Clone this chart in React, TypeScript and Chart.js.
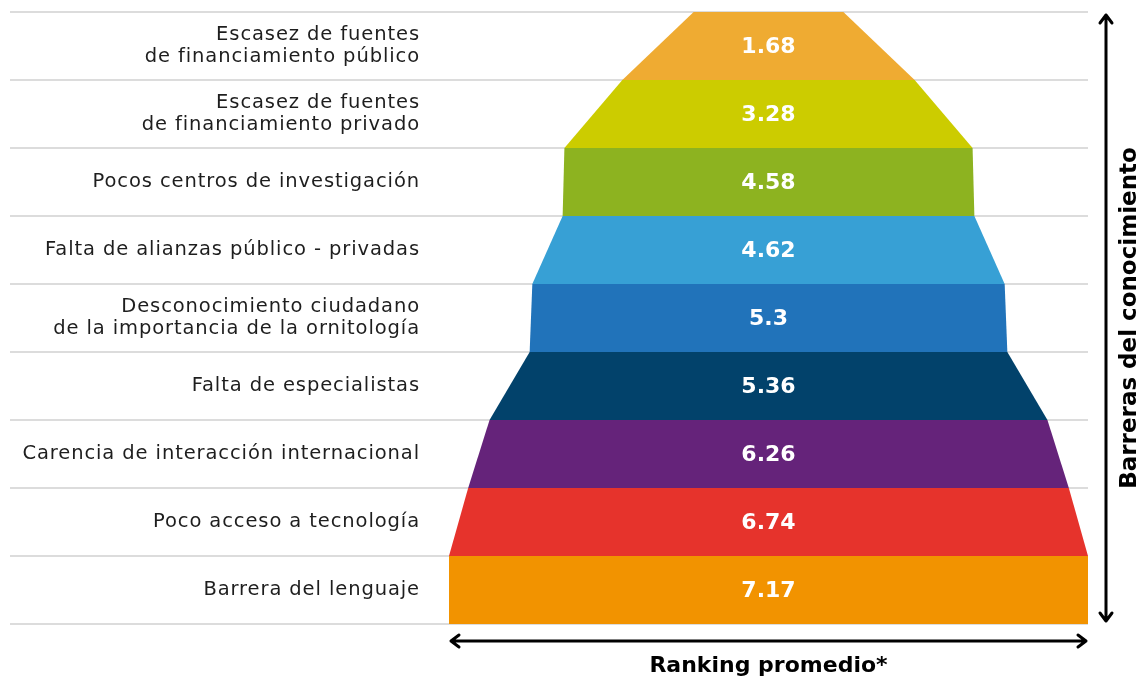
import React, { useEffect, useRef } from "react";
import { Chart, registerables } from "chart.js";

Chart.register(...registerables);

const categories: (string | string[])[] = [
  ["Escasez de fuentes", "de financiamiento público"],
  ["Escasez de fuentes", "de financiamiento privado"],
  "Pocos centros de investigación",
  "Falta de alianzas público - privadas",
  ["Desconocimiento ciudadano", "de la importancia de la ornitología"],
  "Falta de especialistas",
  "Carencia de interacción internacional",
  "Poco acceso a tecnología",
  "Barrera del lenguaje",
];
const values = [1.68, 3.28, 4.58, 4.62, 5.3, 5.36, 6.26, 6.74, 7.17];
const valueLabels = ["1.68", "3.28", "4.58", "4.62", "5.3", "5.36", "6.26", "6.74", "7.17"];
const colors = [
  "#EFAB32",
  "#CCCC00",
  "#8DB320",
  "#37A0D5",
  "#2173BA",
  "#02426B",
  "#65237A",
  "#E6332C",
  "#F29300",
];
const xTitle = "Ranking promedio*";
const yTitle = "Barreras del conocimiento";

const FONT = "'DejaVu Sans', sans-serif";

const funnelPlugin = {
  id: "funnel",
  beforeDraw(chart: any) {
    // widen the category tick labels (drawn before datasets)
    chart.ctx.letterSpacing = "0.9px";
  },
  beforeDatasetsDraw(chart: any) {
    const { ctx, chartArea } = chart;
    ctx.letterSpacing = "0px";
    const meta = chart.getDatasetMeta(0);
    ctx.save();
    ctx.strokeStyle = "#dcdcdc";
    ctx.lineWidth = 2;
    const ys: number[] = [];
    meta.data.forEach((bar: any) => {
      ys.push(bar.y - bar.height / 2);
    });
    const last = meta.data[meta.data.length - 1];
    ys.push(last.y + last.height / 2);
    ys.forEach((y) => {
      ctx.beginPath();
      ctx.moveTo(10, y);
      ctx.lineTo(chartArea.right, y);
      ctx.stroke();
    });
    ctx.restore();
  },
  afterDatasetsDraw(chart: any) {
    const { ctx } = chart;
    const xs = chart.scales.x;
    const meta = chart.getDatasetMeta(0);
    const cx = xs.getPixelForValue(0);
    ctx.save();
    meta.data.forEach((bar: any, i: number) => {
      const top = bar.y - bar.height / 2;
      const bottom = bar.y + bar.height / 2;
      const vTop = values[i];
      const vBot = i < values.length - 1 ? values[i + 1] : values[i];
      ctx.beginPath();
      ctx.moveTo(xs.getPixelForValue(-vTop), top);
      ctx.lineTo(xs.getPixelForValue(vTop), top);
      ctx.lineTo(xs.getPixelForValue(vBot), bottom);
      ctx.lineTo(xs.getPixelForValue(-vBot), bottom);
      ctx.closePath();
      ctx.fillStyle = colors[i];
      ctx.fill();
    });
    ctx.fillStyle = "#ffffff";
    ctx.font = `bold 22px ${FONT}`;
    ctx.textAlign = "center";
    ctx.textBaseline = "middle";
    meta.data.forEach((bar: any, i: number) => {
      ctx.fillText(valueLabels[i], cx, bar.y + 1);
    });
    ctx.restore();
  },
  afterDraw(chart: any) {
    const { ctx, chartArea } = chart;
    ctx.letterSpacing = "0px";
    ctx.save();
    ctx.strokeStyle = "#000";
    ctx.fillStyle = "#000";
    ctx.lineWidth = 3;
    ctx.lineCap = "round";
    ctx.lineJoin = "round";
    // vertical arrow
    const ax = chartArea.right + 18;
    const t = chartArea.top + 3;
    const b = chartArea.bottom - 3;
    ctx.beginPath();
    ctx.moveTo(ax, t);
    ctx.lineTo(ax, b);
    ctx.moveTo(ax - 6, t + 8);
    ctx.lineTo(ax, t);
    ctx.lineTo(ax + 6, t + 8);
    ctx.moveTo(ax - 6, b - 8);
    ctx.lineTo(ax, b);
    ctx.lineTo(ax + 6, b - 8);
    ctx.stroke();
    // horizontal arrow
    const ay = chartArea.bottom + 17;
    const l = chartArea.left + 2;
    const r = chartArea.right - 2;
    ctx.beginPath();
    ctx.moveTo(l, ay);
    ctx.lineTo(r, ay);
    ctx.moveTo(l + 8, ay - 6);
    ctx.lineTo(l, ay);
    ctx.lineTo(l + 8, ay + 6);
    ctx.moveTo(r - 8, ay - 6);
    ctx.lineTo(r, ay);
    ctx.lineTo(r - 8, ay + 6);
    ctx.stroke();
    // titles
    ctx.textAlign = "center";
    ctx.textBaseline = "middle";
    ctx.font = `bold 22px ${FONT}`;
    ctx.fillText(xTitle, (chartArea.left + chartArea.right) / 2, chartArea.bottom + 42);
    ctx.font = `bold 23px ${FONT}`;
    ctx.translate(chartArea.right + 42, (chartArea.top + chartArea.bottom) / 2);
    ctx.rotate(-Math.PI / 2);
    ctx.fillText(yTitle, 0, 0);
    ctx.restore();
  },
};

export default function App() {
  const ref = useRef<HTMLCanvasElement>(null);
  useEffect(() => {
    if (!ref.current) return;
    const chart = new Chart(ref.current, {
      type: "bar",
      data: {
        labels: categories as any,
        datasets: [
          {
            data: values.map((v) => [-v, v]) as any,
            backgroundColor: "rgba(0,0,0,0)",
            borderWidth: 0,
            barPercentage: 1,
            categoryPercentage: 1,
          },
        ],
      },
      options: {
        indexAxis: "y",
        animation: false,
        responsive: true,
        maintainAspectRatio: false,
        layout: { padding: { left: 0, right: 57, top: 12, bottom: 55 } },
        plugins: { legend: { display: false }, tooltip: { enabled: false } },
        scales: {
          x: { min: -7.17, max: 7.17, display: false },
          y: {
            grid: { display: false, drawTicks: false },
            border: { display: false },
            ticks: {
              color: "#1e1e1e",
              padding: 29,
              font: { family: FONT, size: 19.5, lineHeight: 1.13 },
            },
            afterFit: (s: any) => {
              s.width = 449;
              s.paddingTop = 0;
              s.paddingBottom = 0;
            },
          },
        },
      },
      plugins: [funnelPlugin],
    });
    return () => chart.destroy();
  }, []);
  return (
    <div style={{ position: "fixed", left: 0, top: 0, width: 1145, height: 679, background: "#fff" }}>
      <canvas ref={ref} />
    </div>
  );
}
